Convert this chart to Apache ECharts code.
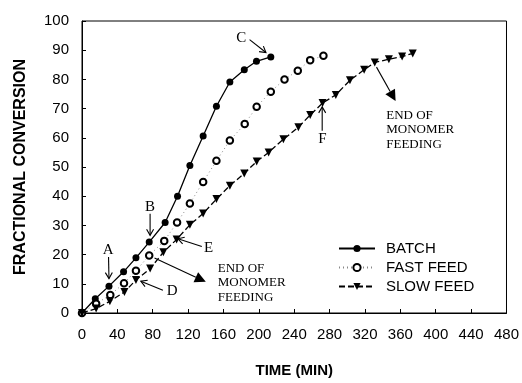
<!DOCTYPE html>
<html>
<head>
<meta charset="utf-8">
<script src="https://cdn.jsdelivr.net/npm/echarts@6/dist/echarts.min.js"></script>
<style>
html,body{margin:0;padding:0;background:#fff;}
#c{width:522px;height:383px;}
</style>
</head>
<body>
<div id="c"></div>
<script>
// ---- data ----
const xTicks = [0,40,80,120,160,200,240,280,320,360,400,440,480];
const yTicks = [0,10,20,30,40,50,60,70,80,90,100];

const batchT = [0,15,30.5,47,61,76,94,108,122,137,152,167.2,183.5,197.3,213.5];
const batchV = [0,4.9,9.2,14.1,18.9,24.3,31,40,50.5,60.6,70.8,79.1,83.3,86.2,87.7];

const fastT = [0,16,32,47.5,61,76,93,107.5,122,137,152,167.2,184,197.5,213.5,229,244,258,273];
const fastV = [0,3.2,6.2,10.2,14.5,19.7,24.7,31,37.5,44.9,52.1,59.1,64.7,70.6,75.8,80,83,86.6,88.1];

const slowT = [0,16,31.5,48,61,77,92,107,122,137,152,167.2,183.5,197.5,211,227.7,244.7,258,272,287,303,319,331,347,362,374];
const slowV = [0,1.5,4,7.2,11.3,15.2,20.8,25.2,30.2,34.1,39,43.6,47.8,51.9,55,59.5,63.6,67.8,71.9,74.7,79.7,83.3,85.8,86.9,87.8,88.9];

const seriesNames = ['BATCH','FAST FEED','SLOW FEED'];

// annotation anchors in data units (time, conversion)
const letterLabels = [
  {text:'A', at:[29.7,21.4], from:[30,19.2], to:[30.5,11.8]},
  {text:'B', at:[76.8,36.4], from:[77,34.0], to:[77,26.6]},
  {text:'C', at:[180,94.2], from:[189.5,93.6], to:[208,89.2]},
  {text:'D', at:[102,7.6], from:[91.5,7.8], to:[66.5,10.9]},
  {text:'E', at:[143,22.3], from:[135.5,22.8], to:[108.5,25.4]},
  {text:'F', at:[271.8,59.7], from:[271.6,62.4], to:[271.6,70.6]}
];
const feedNotes = [
  {lines:['END OF','MONOMER','FEEDING'], at:[153.5,15.3], from:[82,18.8], to:[140,10.7]},
  {lines:['END OF','MONOMER','FEEDING'], at:[344,67.7], from:[333,84.2], to:[354.6,72.6]}
];

const zip = (a,b) => a.map((v,i)=>[v,b[i]]);

const chart = echarts.init(document.getElementById('c'), null, {renderer:'canvas'});
const sans = 'Liberation Sans, Arial, sans-serif';
const serif = 'Liberation Serif, Times New Roman, serif';

chart.setOption({
  animation:false,
  backgroundColor:'#fff',
  grid:{left:82, right:15, top:21, bottom:62, show:true, borderColor:'#000', borderWidth:1},
  xAxis:{
    type:'value', min:xTicks[0], max:xTicks[xTicks.length-1], interval:40,
    name:'TIME (MIN)', nameLocation:'middle', nameGap:50,
    nameTextStyle:{fontFamily:sans, fontWeight:'bold', fontSize:15, color:'#000'},
    axisLine:{show:true, lineStyle:{color:'#000', width:1}},
    axisTick:{show:true, inside:true, length:4, lineStyle:{color:'#000'}},
    axisLabel:{fontFamily:sans, fontSize:15, color:'#000', margin:14},
    splitLine:{show:false}
  },
  yAxis:{
    type:'value', min:yTicks[0], max:yTicks[yTicks.length-1], interval:10,
    name:'FRACTIONAL CONVERSION', nameLocation:'middle', nameGap:53, nameRotate:90,
    nameTextStyle:{fontFamily:sans, fontWeight:'bold', fontSize:16, color:'#000'},
    axisLine:{show:true, lineStyle:{color:'#000', width:1}},
    axisTick:{show:true, inside:true, length:4, lineStyle:{color:'#000'}},
    axisLabel:{fontFamily:sans, fontSize:15, color:'#000', margin:13},
    splitLine:{show:false}
  },
  legend:{
    orient:'vertical', left:333, top:236, itemWidth:36, itemHeight:9, itemGap:4,
    data:seriesNames,
    textStyle:{fontFamily:sans, fontSize:15, color:'#000', padding:[0,0,0,6]}
  },
  series:[
    {name:seriesNames[0], type:'line', data:zip(batchT,batchV), symbol:'circle', symbolSize:7,
     itemStyle:{color:'#000'}, lineStyle:{color:'#000', width:1.3}},
    {name:seriesNames[1], type:'line', data:zip(fastT,fastV), symbol:'emptyCircle', symbolSize:6.5,
     itemStyle:{color:'#000', borderWidth:1}, lineStyle:{color:'#888', width:1, type:[1,3]}},
    {name:seriesNames[2], type:'line', data:zip(slowT,slowV), symbol:'triangle', symbolRotate:180, symbolSize:8,
     itemStyle:{color:'#000'}, lineStyle:{color:'#000', width:1.3, type:[6,3]}}
  ]
});

function px(p){ return chart.convertToPixel({gridIndex:0}, p); }
const g = [];
function openArrow(a,b){
  const dx=b[0]-a[0], dy=b[1]-a[1], L=Math.hypot(dx,dy), ux=dx/L, uy=dy/L;
  const h=6, w=3.5;
  g.push({type:'line', shape:{x1:a[0],y1:a[1],x2:b[0],y2:b[1]}, style:{stroke:'#000', lineWidth:1.1}, z:10});
  g.push({type:'polyline', shape:{points:[[b[0]-ux*h-uy*w, b[1]-uy*h+ux*w],[b[0],b[1]],[b[0]-ux*h+uy*w, b[1]-uy*h-ux*w]]},
          style:{stroke:'#000', lineWidth:1.1, fill:null}, z:10});
}
function filledArrow(a,b){
  const dx=b[0]-a[0], dy=b[1]-a[1], L=Math.hypot(dx,dy), ux=dx/L, uy=dy/L;
  const h=11, w=5.5;
  const bx=b[0]-ux*h, by=b[1]-uy*h;
  g.push({type:'line', shape:{x1:a[0],y1:a[1],x2:bx,y2:by}, style:{stroke:'#000', lineWidth:1.1}, z:10});
  g.push({type:'polygon', shape:{points:[[bx-uy*w, by+ux*w],[b[0],b[1]],[bx+uy*w, by-ux*w]]},
          style:{fill:'#000'}, z:10});
}
letterLabels.forEach(l=>{
  const p=px(l.at);
  g.push({type:'text', x:p[0], y:p[1], style:{text:l.text, fill:'#000', font:'15px '+serif, align:'center', verticalAlign:'middle'}, z:10});
  openArrow(px(l.from), px(l.to));
});
feedNotes.forEach(n=>{
  const p=px(n.at);
  n.lines.forEach((s,i)=>{
    g.push({type:'text', x:p[0], y:p[1]+i*14.7, style:{text:s, fill:'#000', font:'13px '+serif, align:'left', verticalAlign:'middle'}, z:10});
  });
  filledArrow(px(n.from), px(n.to));
});
chart.setOption({graphic:g});
</script>
</body>
</html>
